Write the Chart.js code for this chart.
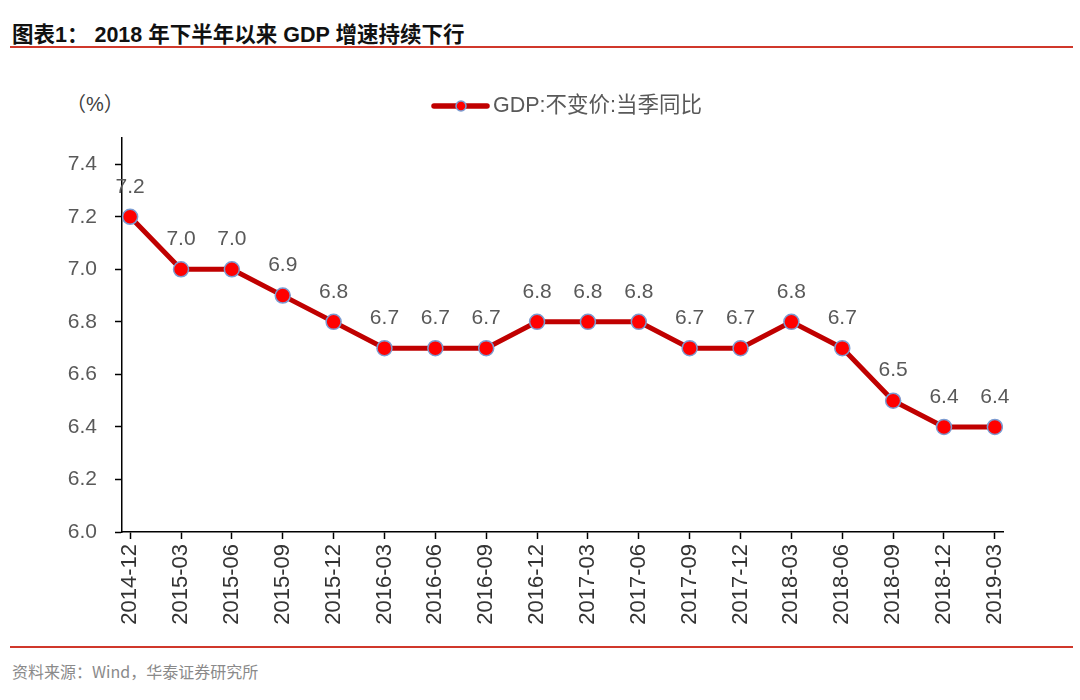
<!DOCTYPE html>
<html>
<head>
<meta charset="utf-8">
<script src="https://cdn.jsdelivr.net/npm/chart.js@4/dist/chart.umd.min.js"></script>
<style>
  body { margin: 0; background: #fff; width: 1080px; height: 700px; position: relative; overflow: hidden; }
  #title { position: absolute; left: 12px; top: 17px; font: bold 21.5px "Liberation Sans", "Noto Sans CJK SC", sans-serif; color: #111; }
  .rule { position: absolute; left: 10px; width: 1063px; height: 2px; background: #D0382B; }
  #unit { position: absolute; left: 66px; top: 88px; font: 20px "Liberation Sans", "Noto Sans CJK SC", sans-serif; color: #404040; }
  #source { position: absolute; left: 12px; top: 659px; font: 16px "Noto Sans CJK SC", sans-serif; color: #8a8a8a; }
  #wrap { position: absolute; left: 0; top: 0; width: 1080px; height: 700px; }
</style>
</head>
<body>
<div id="title">图表1： 2018 年下半年以来 GDP 增速持续下行</div>
<div class="rule" style="top:46px"></div>
<div id="unit">（%）</div>
<div class="rule" style="top:646px"></div>
<div id="source">资料来源：Wind，华泰证券研究所</div>
<div id="wrap"><canvas id="chart" width="1080" height="700"></canvas></div>
<script>
const categories = ["2014-12", "2015-03", "2015-06", "2015-09", "2015-12", "2016-03", "2016-06", "2016-09", "2016-12",
                    "2017-03", "2017-06", "2017-09", "2017-12", "2018-03", "2018-06", "2018-09", "2018-12", "2019-03"];
const gdpValues = [7.2, 7.0, 7.0, 6.9, 6.8, 6.7, 6.7, 6.7, 6.8, 6.8, 6.8, 6.7, 6.7, 6.8, 6.7, 6.5, 6.4, 6.4];
const yTicks = [6.0, 6.2, 6.4, 6.6, 6.8, 7.0, 7.2, 7.4];
const seriesName = "GDP:不变价:当季同比";

const FONT = "'Liberation Sans', Arial, sans-serif";
const LINE_RED = "#C00000";
const DOT_RED = "#FF0000";
const DOT_EDGE = "#7B9BD1";

// value labels above each point
const valueLabels = {
  id: "valueLabels",
  afterDatasetsDraw(chart) {
    const ctx = chart.ctx;
    const meta = chart.getDatasetMeta(0);
    ctx.save();
    ctx.font = "21px " + FONT;
    ctx.fillStyle = "#595959";
    ctx.textAlign = "center";
    ctx.textBaseline = "middle";
    meta.data.forEach((pt, i) => {
      ctx.fillText(gdpValues[i].toFixed(1), pt.x, pt.y - 30);
    });
    ctx.restore();
  }
};

// legend: line with marker + series name
const lineLegend = {
  id: "lineLegend",
  afterDraw(chart) {
    const ctx = chart.ctx;
    const y = 106;
    ctx.save();
    ctx.strokeStyle = LINE_RED;
    ctx.lineWidth = 5.5;
    ctx.lineCap = "round";
    ctx.beginPath();
    ctx.moveTo(434, y);
    ctx.lineTo(487, y);
    ctx.stroke();
    ctx.beginPath();
    ctx.arc(461, y, 5, 0, Math.PI * 2);
    ctx.fillStyle = DOT_RED;
    ctx.fill();
    ctx.lineWidth = 1.5;
    ctx.strokeStyle = DOT_EDGE;
    ctx.stroke();
    ctx.font = "21.5px " + FONT + ", 'Noto Sans CJK SC'";
    ctx.fillStyle = "#595959";
    ctx.textBaseline = "middle";
    ctx.fillText(seriesName, 493, y);
    ctx.restore();
  }
};

new Chart(document.getElementById("chart"), {
  type: "line",
  data: {
    datasets: [{
      label: seriesName,
      data: gdpValues.map((v, i) => ({ x: i, y: v })),
      borderColor: LINE_RED,
      borderWidth: 5,
      pointRadius: 7.5,
      pointBackgroundColor: DOT_RED,
      pointBorderColor: DOT_EDGE,
      pointBorderWidth: 1.5,
      tension: 0
    }]
  },
  options: {
    responsive: false,
    animation: false,
    devicePixelRatio: 1,
    layout: { padding: { left: 0, right: 77, top: 138, bottom: 0 } },
    plugins: { legend: { display: false }, tooltip: { enabled: false } },
    scales: {
      x: {
        type: "linear",
        min: -0.16,
        max: 17.16,
        afterBuildTicks: s => { s.ticks = categories.map((c, i) => ({ value: i })); },
        afterFit: s => { s.height = 168; },
        grid: { drawOnChartArea: false, tickLength: 7, tickColor: "#000", tickWidth: 1.5 },
        border: { color: "#000", width: 1.5 },
        ticks: {
          minRotation: 90,
          maxRotation: 90,
          padding: 5,
          autoSkip: false,
          color: "#333",
          font: { family: FONT, size: 22 },
          callback: v => categories[v]
        }
      },
      y: {
        min: 6.0,
        max: 7.5,
        afterBuildTicks: s => { s.ticks = yTicks.map(v => ({ value: v })); },
        afterFit: s => { s.width = 122; },
        grid: { drawOnChartArea: false, tickLength: 7, tickColor: "#000", tickWidth: 1.5 },
        border: { color: "#000", width: 1.5 },
        ticks: {
          padding: 18,
          color: "#595959",
          font: { family: FONT, size: 21 },
          callback: v => v.toFixed(1)
        }
      }
    }
  },
  plugins: [valueLabels, lineLegend]
});
</script>
</body>
</html>
